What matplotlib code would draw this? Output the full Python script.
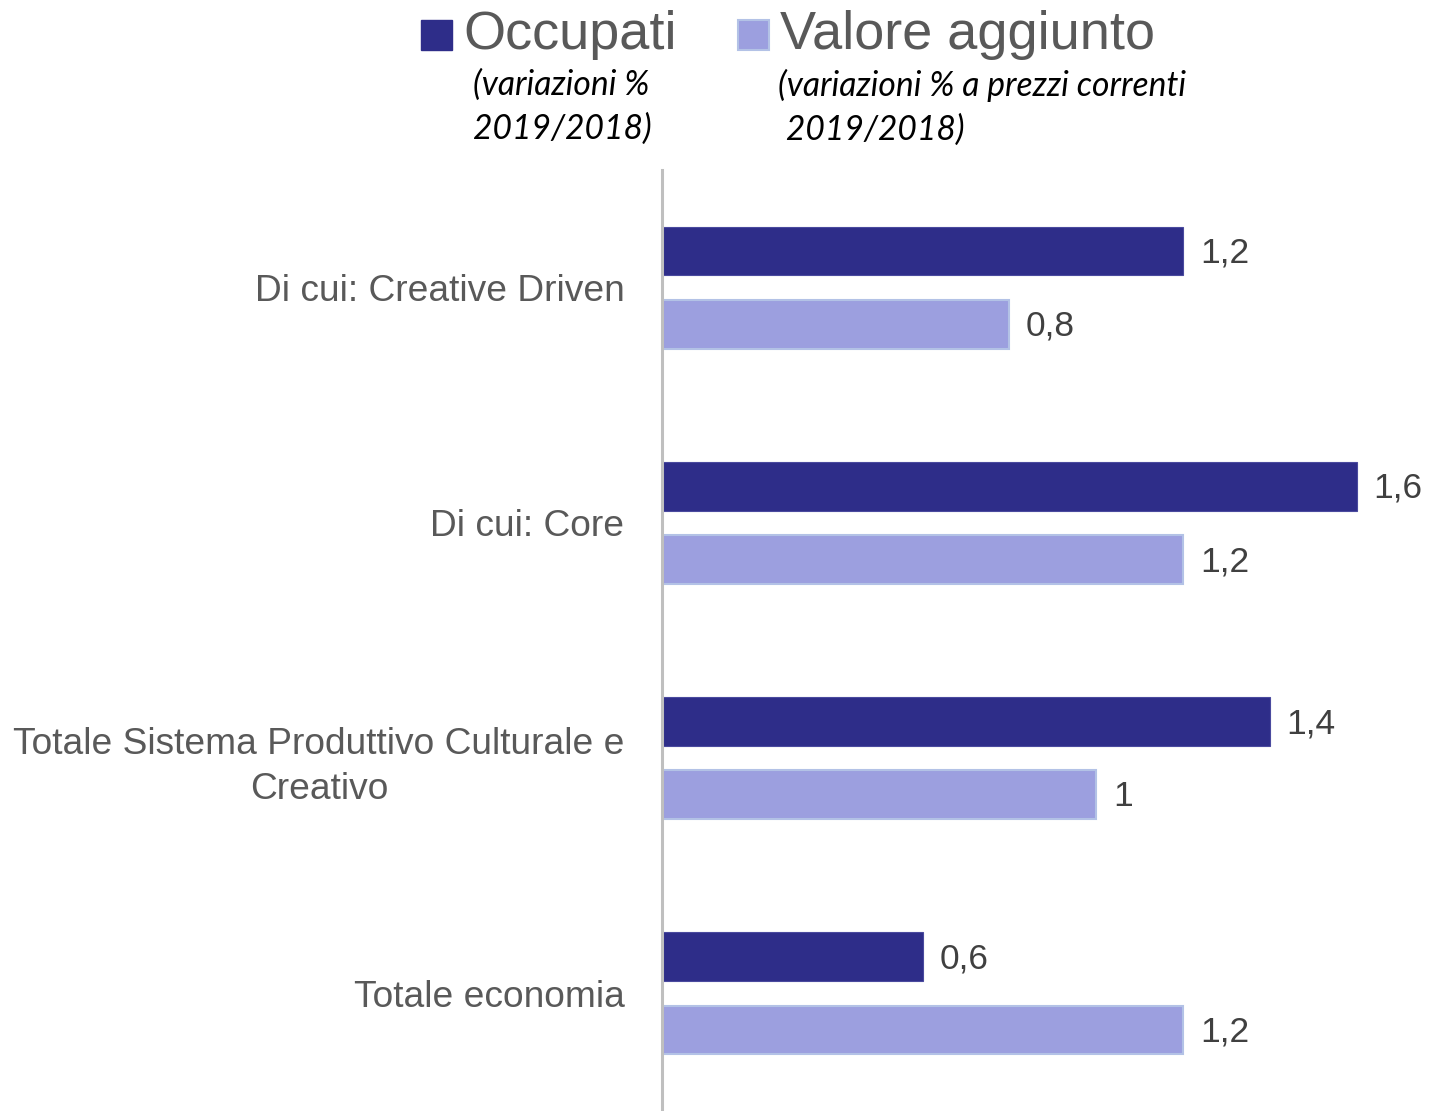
import matplotlib
matplotlib.use("Agg")
import matplotlib.pyplot as plt
import numpy as np

categories = ["Di cui: Creative Driven", "Di cui: Core",
              "Totale Sistema Produttivo Culturale e\nCreativo", "Totale economia"]
occupati = [1.2, 1.6, 1.4, 0.6]
valore = [0.8, 1.2, 1.0, 1.2]
series_names = ["Occupati", "Valore aggiunto"]
subtitles = ["(variazioni %\n2019/2018)", "(variazioni % a prezzi correnti\n 2019/2018)"]

DARK = "#2E2D89"
LIGHT = "#9C9FDF"
LIGHT_EDGE = "#B3C2E6"
GRAY = "#595959"

plt.rcParams['font.family'] = ['Liberation Sans', 'DejaVu Sans']

fig = plt.figure(figsize=(14.3, 11.11), dpi=100)
ax = fig.add_axes([662/1430, 0.0, 1 - 662/1430, 1 - 170/1111])

y = np.arange(len(categories))
h = 0.207
off = 0.156
ax.barh(y - off, occupati, height=h, color=DARK, edgecolor="#4A4A9E", linewidth=0.8)
ax.barh(y + off, valore, height=h, color=LIGHT, edgecolor=LIGHT_EDGE, linewidth=1.5)

def fmt(v):
    s = ("%.1f" % v).rstrip("0").rstrip(".")
    return s.replace(".", ",")

for yi, v in zip(y - off, occupati):
    ax.annotate(fmt(v), (v, yi), xytext=(12, -1.5), textcoords="offset points",
                va="center", ha="left", fontsize=25.5, color="#404040")
for yi, v in zip(y + off, valore):
    ax.annotate(fmt(v), (v, yi), xytext=(12, -1.5), textcoords="offset points",
                va="center", ha="left", fontsize=25.5, color="#404040")

ax.set_xlim(0, 1.7685)
ax.set_ylim(3.5, -0.5)
ax.set_yticks(y)
ax.set_yticklabels(categories, fontsize=26.7, color=GRAY, multialignment="center",
                   linespacing=1.35)
ax.tick_params(axis="y", length=0, pad=27)
ax.set_xticks([])
for s in ["top", "right", "bottom"]:
    ax.spines[s].set_visible(False)
ax.spines["left"].set_color("#BFBFBF")
ax.spines["left"].set_linewidth(2.2)

# legend
fig.patches.append(matplotlib.patches.Rectangle((421/1430, 1 - 50/1111), 31/1430, 30/1111,
                   transform=fig.transFigure, color=DARK))
fig.patches.append(matplotlib.patches.Rectangle((738/1430, 1 - 50/1111), 31/1430, 30/1111,
                   transform=fig.transFigure, facecolor=LIGHT, edgecolor=LIGHT_EDGE, linewidth=1.5))
fig.text(463/1430, 1 - 35/1111, series_names[0], fontsize=39, color=GRAY, va="center", ha="left")
fig.text(780/1430, 1 - 35/1111, series_names[1], fontsize=39, color=GRAY, va="center", ha="left")
fig.text(473/1430, 1 - 107/1111, subtitles[0], fontsize=24.2, style="italic", family="Lato",
         color="black", va="center", ha="left", linespacing=1.45)
fig.text(778/1430, 1 - 107/1111, subtitles[1], fontsize=24.2, style="italic", family="Lato",
         color="black", va="center", ha="left", linespacing=1.45)

fig.savefig("out.png", dpi=100)
